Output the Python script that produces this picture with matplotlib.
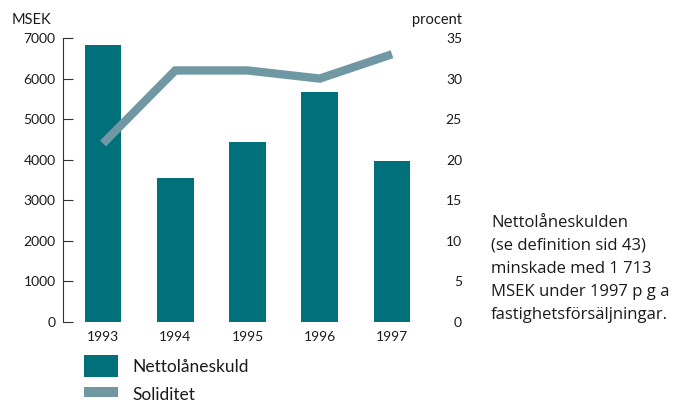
import matplotlib
matplotlib.use("Agg")
import matplotlib.pyplot as plt
from matplotlib.patches import Patch
from matplotlib.lines import Line2D

# Data
years = ["1993", "1994", "1995", "1996", "1997"]
nettolaneskuld = [6830, 3550, 4430, 5680, 3967]   # MSEK
soliditet = [22, 31, 31, 30, 33]                    # procent
left_ticks = [0, 1000, 2000, 3000, 4000, 5000, 6000, 7000]
right_ticks = [0, 5, 10, 15, 20, 25, 30, 35]
note_lines = ["Nettolåneskulden", "(se definition sid 43)", "minskade med 1 713",
              "MSEK under 1997 p g a", "fastighetsförsäljningar."]

BAR = "#00707a"
LINE = "#6f98a3"
TXT = "#1a1a1a"

MAIN = ["Lato", "DejaVu Sans"]
NOTE = ["Open Sans", "DejaVu Sans"]

W, H = 673, 407
fig = plt.figure(figsize=(W / 100, H / 100), dpi=100)

def fx(px):
    return px / W

def fy(py):
    return 1 - py / H

ax_left, ax_right, ax_top, ax_bottom = 62.5, 432.5, 38, 322
ax = fig.add_axes([fx(ax_left), fy(ax_bottom), fx(ax_right - ax_left), (ax_bottom - ax_top) / H])

x = range(len(years))
ax.bar(x, nettolaneskuld, width=0.51, color=BAR, zorder=2)
ax.set_xlim(-0.56, 4.56)
ax.set_ylim(0, 7000)
ax.set_yticks(left_ticks)
ax.set_yticklabels([str(v) for v in left_ticks], family=MAIN, fontsize=10, color=TXT)
ax.set_xticks(list(x))
ax.set_xticklabels(years, family=MAIN, fontsize=10, color=TXT)
ax.tick_params(axis="x", length=0, pad=6.5)
ax.tick_params(axis="y", direction="in", length=7.2, width=0.8, color="#333333", pad=5)
for s in ("top", "right", "bottom"):
    ax.spines[s].set_visible(False)
ax.spines["left"].set_color("#333333")
ax.spines["left"].set_linewidth(0.8)

ax2 = ax.twinx()
ax2.plot(list(x), soliditet, color=LINE, lw=6, solid_capstyle="butt",
         solid_joinstyle="miter", zorder=3)
ax2.set_ylim(0, 35)
ax2.set_yticks(right_ticks)
ax2.set_yticklabels([str(v) for v in right_ticks], family=MAIN, fontsize=10,
                    color=TXT, ha="right")
ax2.tick_params(axis="y", length=0, pad=(462 - ax_right) * 0.72)
for s in ax2.spines.values():
    s.set_visible(False)

# Axis unit labels
fig.text(fx(12), fy(24), "MSEK", family=MAIN, fontsize=10.5, color=TXT,
         ha="left", va="baseline")
fig.text(fx(462), fy(24), "procent", family=MAIN, fontsize=10.5, color=TXT,
         ha="right", va="baseline")

# Legend
handles = [Patch(facecolor=BAR, edgecolor="none"),
           Line2D([0], [0], color=LINE, lw=7.2, solid_capstyle="butt")]
fs = 12.5
fpx = fs / 72 * 100
fig.legend(handles, ["Nettolåneskuld", "Soliditet"],
           loc="upper left", bbox_to_anchor=(fx(84), fy(355)),
           frameon=False, borderpad=0, borderaxespad=0,
           handlelength=34 / fpx, handleheight=27 / fpx,
           handletextpad=14 / fpx, labelspacing=7 / fpx,
           prop={"family": MAIN, "size": fs}, labelcolor=TXT)

# Side note, one line per baseline
for i, line in enumerate(note_lines):
    fig.text(fx(491), fy(226.7 + 23.1 * i), line, family=NOTE, fontsize=12,
             color=TXT, ha="left", va="baseline")

fig.savefig("out.png", dpi=100)
